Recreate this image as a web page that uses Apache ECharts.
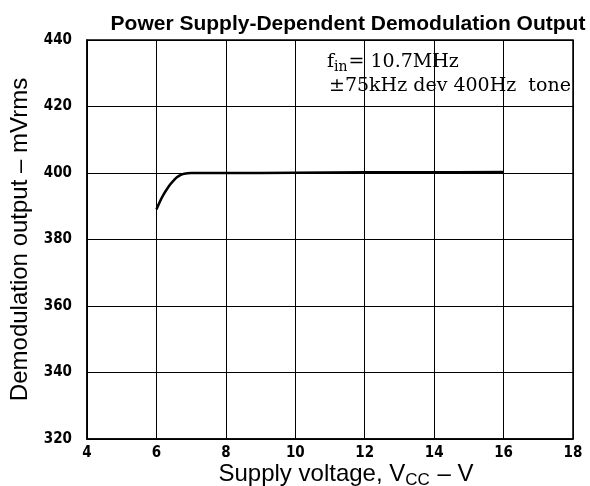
<!DOCTYPE html>
<html>
<head>
<meta charset="utf-8">
<script src="https://cdn.jsdelivr.net/npm/echarts@6/dist/echarts.min.js"></script>
<style>
  html, body { margin: 0; padding: 0; background: #fff; }
  #chart { width: 590px; height: 486px; }
</style>
</head>
<body>
<div id="chart"></div>
<script>
// Supply voltage (V) and demodulated output (mVrms)
const supplyVoltage = [6.0, 6.1, 6.2, 6.3, 6.4, 6.5, 6.6, 6.7, 6.8, 7.0, 8.0, 10.0, 12.0, 14.0, 16.0];
const outputLevel   = [389.0, 391.4, 393.4, 395.1, 396.6, 397.8, 398.8, 399.4, 399.8, 400.0, 400.0, 400.1, 400.2, 400.2, 400.3];

const xTicks = [4, 6, 8, 10, 12, 14, 16, 18];
const yTicks = [320, 340, 360, 380, 400, 420, 440];

const chart = echarts.init(document.getElementById('chart'));

const labelFont = {
  fontFamily: "'DejaVu Sans Condensed', 'DejaVu Sans', sans-serif",
  fontWeight: 'bold', fontSize: 15, color: '#000'
};
const serif = { fontFamily: "'DejaVu Serif', serif", fontWeight: 'normal', color: '#000' };
const sans = { fontFamily: "'Liberation Sans', sans-serif", fontWeight: 'normal', color: '#000' };

chart.setOption({
  backgroundColor: '#fff',
  animation: false,
  title: [
    {
      text: 'Power Supply-Dependent Demodulation Output',
      left: 343, top: 9, textAlign: 'center',
      textStyle: { fontFamily: "'Liberation Sans', sans-serif", fontWeight: 'bold', fontSize: 21, color: '#000' }
    },
    {
      text: '{m|f}{s|in}{m|= 10.7MHz}',
      left: 322, top: 46,
      textStyle: {
        rich: {
          m: Object.assign({ fontSize: 19 }, serif),
          s: Object.assign({ fontSize: 14, padding: [9, 1, 0, 0] }, serif)
        }
      }
    },
    {
      text: '±75kHz dev 400Hz  tone',
      left: 324, top: 72,
      textStyle: Object.assign({ fontSize: 19 }, serif)
    },
    {
      text: '{m|Supply voltage, V}{s|CC}{m| – V}',
      left: 341, top: 455, textAlign: 'center',
      textStyle: {
        rich: {
          m: Object.assign({ fontSize: 24 }, sans),
          s: Object.assign({ fontSize: 17, padding: [12, 1, 0, 0] }, sans)
        }
      }
    }
  ],
  grid: { left: 87, right: 17, top: 40, bottom: 47, outerBoundsMode: 'none', containLabel: false },
  xAxis: {
    type: 'value',
    min: xTicks[0], max: xTicks[xTicks.length - 1], interval: 2,
    axisLine: { show: true, onZero: false, lineStyle: { color: '#000', width: 1.5 } },
    axisTick: { show: false },
    axisLabel: Object.assign({ margin: 7 }, labelFont),
    splitLine: { show: true, lineStyle: { color: '#000', width: 1 } }
  },
  yAxis: {
    type: 'value',
    min: yTicks[0], max: yTicks[yTicks.length - 1], interval: 20,
    name: 'Demodulation output – mVrms',
    nameLocation: 'middle', nameGap: 55, nameRotate: 90,
    nameTextStyle: Object.assign({ fontSize: 24 }, sans),
    axisLine: { show: true, lineStyle: { color: '#000', width: 1.5 } },
    axisTick: { show: false },
    axisLabel: Object.assign({ margin: 15 }, labelFont),
    splitLine: { show: true, lineStyle: { color: '#000', width: 1 } }
  },
  series: [{
    type: 'line',
    data: supplyVoltage.map((v, i) => [v, outputLevel[i]]),
    smooth: 0.4,
    showSymbol: false,
    lineStyle: { color: '#000', width: 2.5 }
  }],
  graphic: [{
    type: 'rect',
    shape: { x: 87, y: 40, width: 486, height: 399 },
    style: { fill: 'none', stroke: '#000', lineWidth: 1.5 },
    silent: true
  }]
});
</script>
</body>
</html>
